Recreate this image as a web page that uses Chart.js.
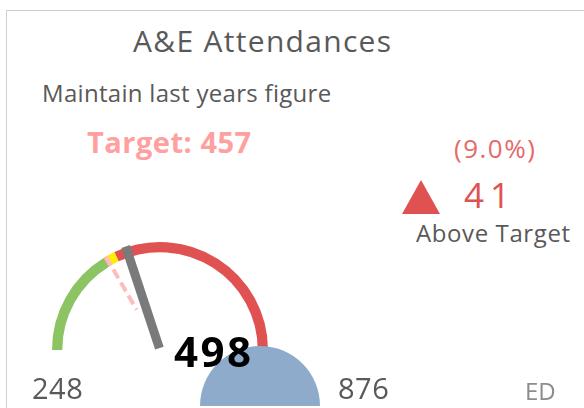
<!DOCTYPE html>
<html>
<head>
<meta charset="utf-8">
<script src="https://cdn.jsdelivr.net/npm/chart.js@4/dist/chart.umd.min.js"></script>
<style>
    body { margin: 0; width: 584px; height: 408px; overflow: hidden; background: #fff; position: relative; font-family: "Open Sans", sans-serif; }
    .t { position: absolute; line-height: 1; white-space: nowrap; color: #595959; }
    #frame { position: absolute; left: 6px; top: 10px; width: 620px; height: 440px; border: 1px solid #cfcfcf; }
    #title { left: 133px; top: 26px; font-size: 30px; letter-spacing: 1.3px; }
    #subtitle { left: 42px; top: 81px; font-size: 24px; letter-spacing: 0.3px; }
    #target { left: 87px; top: 127px; font-size: 29px; font-weight: 700; color: #ffa0a0; letter-spacing: 0.5px; }
    #pct { left: 454px; top: 135px; font-size: 26px; color: #e56a6a; letter-spacing: 1.5px; }
    #arrow { position: absolute; left: 402px; top: 180px; width: 38px; height: 34px; background: #e05252; clip-path: polygon(50% 0, 100% 100%, 0 100%); }
    #diff { left: 464px; top: 177px; font-size: 35px; color: #e05252; letter-spacing: 6px; }
    #status { left: 416px; top: 221px; font-size: 24px; letter-spacing: 0.6px; }
    #minLabel { left: 32px; top: 373px; font-size: 29px; letter-spacing: 0.5px; }
    #maxLabel { left: 338px; top: 373px; font-size: 29px; letter-spacing: 0.5px; }
    #unit { left: 525px; top: 379px; font-size: 24px; color: #8c8c8c; }
    #actual { left: 174px; top: 330px; font-size: 42px; font-weight: 700; color: #000; letter-spacing: 2.5px; }
    #gauge { position: absolute; left: 42px; top: 232px; }
    #disc { position: absolute; left: 200px; top: 346px; }
</style>
</head>
<body>
<div id="frame"></div>
<div class="t" id="title"></div>
<div class="t" id="subtitle"></div>
<div class="t" id="target"></div>
<div class="t" id="pct"></div>
<div id="arrow"></div>
<div class="t" id="diff"></div>
<div class="t" id="status"></div>
<canvas id="gauge" width="236" height="124"></canvas>
<canvas id="disc" width="120" height="60"></canvas>
<div class="t" id="minLabel"></div>
<div class="t" id="maxLabel"></div>
<div class="t" id="unit"></div>
<div class="t" id="actual"></div>

<script>
    // data
    const titleText = 'A&E Attendances';
    const subtitleText = 'Maintain last years figure';
    const unitText = 'ED';
    const gaugeMin = 248;
    const gaugeMax = 876;
    const actualValue = 498;
    const targetValue = 457;
    const bandEdges = [248, 452, 459, 475, 876];
    const bandColours = ['#8cc463', '#f4a460', '#ffee00', '#e05252'];
    const discValues = [1];

    const diff = actualValue - targetValue;
    const pct = (Math.abs(diff) / targetValue * 100).toFixed(1);

    document.getElementById('title').textContent = titleText;
    document.getElementById('subtitle').textContent = subtitleText;
    document.getElementById('target').textContent = 'Target: ' + targetValue;
    document.getElementById('pct').textContent = '(' + pct + '%)';
    document.getElementById('diff').textContent = Math.abs(diff);
    document.getElementById('status').textContent = diff >= 0 ? 'Above Target' : 'Below Target';
    document.getElementById('minLabel').textContent = gaugeMin;
    document.getElementById('maxLabel').textContent = gaugeMax;
    document.getElementById('unit').textContent = unitText;
    document.getElementById('actual').textContent = actualValue;

    // band sizes from the edges
    const bandSizes = bandEdges.slice(1).map((e, i) => e - bandEdges[i]);

    // draws the target line and the needle on top of the arcs
    const needlePlugin = {
        id: 'needle',
        afterDatasetsDraw(chart) {
            const arc = chart.getDatasetMeta(0).data[0];
            const cx = arc.x, cy = arc.y, R = arc.outerRadius;
            const angleOf = v => -Math.PI + Math.PI * (v - gaugeMin) / (gaugeMax - gaugeMin);
            const ctx = chart.ctx;
            ctx.save();

            let a = angleOf(targetValue);
            ctx.strokeStyle = '#ffbcbc';
            ctx.lineWidth = 4;
            ctx.setLineDash([10, 5]);
            ctx.beginPath();
            ctx.moveTo(cx + R * Math.cos(a), cy + R * Math.sin(a));
            ctx.lineTo(cx + R * 0.43 * Math.cos(a), cy + R * 0.43 * Math.sin(a));
            ctx.stroke();

            a = angleOf(actualValue);
            ctx.setLineDash([]);
            ctx.strokeStyle = '#7a7a7a';
            ctx.lineWidth = 9;
            ctx.beginPath();
            ctx.moveTo(cx + 2 * Math.cos(a), cy + 2 * Math.sin(a));
            ctx.lineTo(cx + (R + 1) * Math.cos(a), cy + (R + 1) * Math.sin(a));
            ctx.stroke();
            ctx.restore();
        }
    };

    new Chart(document.getElementById('gauge'), {
        type: 'doughnut',
        data: {
            datasets: [{
                data: bandSizes,
                backgroundColor: bandColours,
                borderWidth: 0
            }]
        },
        options: {
            responsive: false,
            animation: false,
            devicePixelRatio: 1,
            rotation: -90,
            circumference: 180,
            cutout: '90.5%',
            layout: { padding: { left: 10, right: 10, top: 10, bottom: 6 } },
            plugins: { legend: { display: false }, tooltip: { enabled: false } }
        },
        plugins: [needlePlugin]
    });

    new Chart(document.getElementById('disc'), {
        type: 'pie',
        data: {
            datasets: [{
                data: discValues,
                backgroundColor: ['#8eabcc'],
                borderWidth: 0
            }]
        },
        options: {
            responsive: false,
            animation: false,
            devicePixelRatio: 1,
            rotation: -90,
            circumference: 180,
            plugins: { legend: { display: false }, tooltip: { enabled: false } }
        }
    });
</script>
</body>
</html>
